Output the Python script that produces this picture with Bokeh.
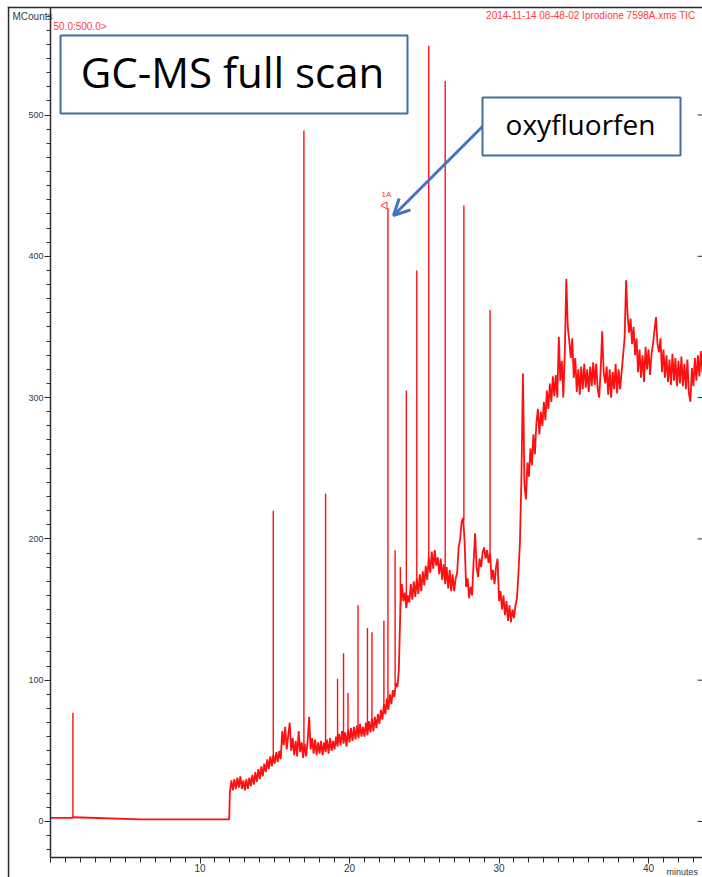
import numpy as np
from bokeh.plotting import figure
from bokeh.models import (Range1d, FixedTicker, BoxAnnotation, Label,
                          Arrow, OpenHead)
from bokeh.embed import file_html
from bokeh.resources import INLINE

# ---------------- data ----------------
# flat part of the run before the solvent delay ends (minutes, MCounts)
pre_t = [0.0, 1.45, 1.55, 6.0, 11.95]
pre_v = [2.5, 2.5, 3.0, 1.5, 1.5]

# TIC scans from 12.0 min on, one value every 0.1 min (MCounts)
scan_start = 12.0
scan_step = 0.1
tic_values = [
    21, 29, 22, 30, 23, 31, 24, 32, 23, 29,
    22, 30, 23, 31, 25, 33, 26, 35, 28, 37,
    30, 39, 32, 41, 35, 44, 37, 46, 39, 47,
    41, 49, 42, 50, 44, 64, 54, 67, 51, 61,
    70, 50, 59, 47, 57, 46, 64, 49, 56, 45,
    55, 46, 57, 74, 51, 59, 48, 58, 47, 56,
    48, 57, 47, 56, 49, 58, 48, 59, 50, 57,
    51, 60, 53, 62, 54, 64, 55, 63, 53, 65,
    56, 66, 57, 67, 58, 68, 59, 69, 60, 67,
    60, 70, 61, 71, 63, 73, 64, 74, 66, 76,
    69, 79, 72, 83, 76, 87, 79, 90, 83, 93,
    88, 98, 95, 107, 150, 168, 156, 162, 151, 160,
    155, 168, 157, 170, 159, 172, 161, 175, 163, 177,
    167, 181, 171, 187, 176, 191, 179, 192, 181, 187,
    175, 186, 171, 182, 168, 180, 165, 178, 163, 175,
    163, 172, 176, 194, 200, 212, 215, 198, 166, 172,
    158, 166, 160, 184, 204, 180, 173, 186, 180, 190,
    194, 186, 192, 183, 190, 171, 178, 168, 180, 186,
    156, 163, 150, 160, 146, 156, 142, 153, 141, 150,
    144, 153, 158, 176, 198, 244, 317, 238, 228, 254,
    244, 264, 252, 274, 260, 282, 292, 274, 290, 280,
    297, 284, 305, 292, 310, 297, 315, 301, 316, 300,
    343, 312, 326, 300, 332, 384, 350, 340, 328, 342,
    314, 328, 304, 320, 302, 322, 306, 324, 307, 320,
    304, 322, 308, 325, 309, 324, 306, 300, 320, 347,
    318, 310, 322, 302, 320, 300, 318, 306, 324, 303,
    320, 306, 318, 330, 342, 383, 358, 346, 356, 338,
    350, 330, 342, 318, 334, 314, 330, 311, 336, 320,
    334, 316, 331, 338, 348, 357, 338, 332, 342, 318,
    334, 314, 330, 311, 327, 309, 331, 312, 328, 308,
    326, 310, 329, 308, 324, 306, 327, 303, 297, 321,
    308, 328, 312, 330, 315, 333, 318,
]

# sharp peaks: retention time, baseline at foot, apex (MCounts)
peak_t = [1.5, 14.9, 16.95, 18.4, 19.2, 19.6, 19.9, 20.57, 21.2, 21.5,
          22.3, 22.57, 23.05, 23.4, 23.8, 24.5, 25.3, 26.4, 27.65, 29.4]
peak_base = [2.5, 44, 50, 52, 56, 58, 60, 62, 66, 68,
             76, 80, 96, 150, 157, 164, 182, 174, 213, 190]
peak_top = [77, 220, 489, 232, 101, 119, 91, 153, 137, 134,
            142, 434, 192, 180, 305, 390, 549, 524, 436, 362]
oxy_index = 11  # peak "1A" = oxyfluorfen

x_major = [10, 20, 30, 40]
x_minor = list(range(0, 44))
y_major = [0, 100, 200, 300, 400, 500]
y_minor = list(range(-20, 580, 10))

scan_t = [round(scan_start + scan_step * i, 2) for i in range(len(tic_values))]
trace_t = pre_t + scan_t
trace_v = pre_v + tic_values

# ---------------- figure ----------------
W, H = 702, 877
# the data frame covers the whole page; the axes sit inside it at fixed places
XR = (-3.344, 43.61)     # 0 min at 50 px, 43.61 min at the right edge
YR = (-39.66, 581.05)    # 0 MCounts at 821 px
X_AXIS_AT = -25.5        # bottom of the chromatogram box
Y_TOP = 576.1            # top of the chromatogram box


def dx(px):
    return XR[0] + px / W * (XR[1] - XR[0])


def dy(py):
    return YR[1] - py / H * (YR[1] - YR[0])


p = figure(width=W, height=H, output_backend="svg", toolbar_location=None,
           x_range=Range1d(*XR), y_range=Range1d(*YR),
           min_border_left=0, min_border_right=0, min_border_top=0,
           min_border_bottom=0)
p.xgrid.visible = False
p.ygrid.visible = False
p.outline_line_color = None
p.background_fill_color = "white"
p.border_fill_color = "white"

axis_col = "#2b2b2b"
lab_col = "#2e3a4a"

xa = p.xaxis[0]
xa.fixed_location = X_AXIS_AT
xa.bounds = (0, XR[1])
xa.ticker = FixedTicker(ticks=x_major, minor_ticks=x_minor)
xa.axis_line_color = axis_col
xa.axis_line_width = 1.5
xa.major_tick_line_color = axis_col
xa.minor_tick_line_color = axis_col
xa.major_tick_out = 6
xa.major_tick_in = 0
xa.minor_tick_out = 5
xa.minor_tick_in = 0
xa.major_label_text_font = "Liberation Sans"
xa.major_label_text_font_size = "10px"
xa.major_label_text_color = lab_col
xa.major_label_standoff = 1

ya = p.yaxis[0]
ya.fixed_location = 0
ya.bounds = (X_AXIS_AT, Y_TOP)
ya.ticker = FixedTicker(ticks=y_major, minor_ticks=y_minor)
ya.axis_line_color = axis_col
ya.axis_line_width = 1.5
ya.major_tick_line_color = axis_col
ya.minor_tick_line_color = axis_col
ya.major_tick_out = 6
ya.major_tick_in = 0
ya.minor_tick_out = 4
ya.minor_tick_in = 0
ya.major_label_text_font = "Liberation Sans"
ya.major_label_text_font_size = "9px"
ya.major_label_text_color = lab_col
ya.major_label_standoff = 1

# short tick marks along the right edge at the major y values
p.segment(x0=[XR[1] - 0.33] * len(y_major), y0=y_major,
          x1=[XR[1]] * len(y_major), y1=y_major,
          line_color=axis_col, line_width=1)

# outer rules of the printout (left border and top border)
p.add_layout(BoxAnnotation(left=dx(7.3), right=dx(8.8), top=dy(6.3), bottom=None,
                           fill_color=axis_col, fill_alpha=1, line_color=None))
p.add_layout(BoxAnnotation(left=dx(7.3), right=None, top=dy(6.3), bottom=dy(7.8),
                           fill_color=axis_col, fill_alpha=1, line_color=None))

# ---------------- chromatogram ----------------
red = "#ff1010"
p.line(trace_t, trace_v, line_color=red, line_width=1.8)
p.segment(x0=peak_t, y0=peak_base, x1=peak_t, y1=peak_top,
          line_color=red, line_width=1.4)

# peak marker "1A"
p.scatter(x=[peak_t[oxy_index] - 0.2], y=[peak_top[oxy_index] + 2],
          marker="triangle", angle=np.pi / 2, size=7,
          line_color="#ff3030", fill_color=None, line_width=1)
p.add_layout(Label(x=peak_t[oxy_index] - 0.1, y=peak_top[oxy_index] + 6.5,
                   text="1A", text_color="#ff3030", text_font="Liberation Sans",
                   text_font_size="8px", text_align="center"))

# printout header texts
p.add_layout(Label(x=dx(695), y=dy(15), text="2014-11-14 08-48-02 Iprodione 7598A.xms TIC",
                   text_color="#ff4040", text_font="Liberation Sans",
                   text_font_size="10px", text_align="right", text_baseline="alphabetic"))
p.add_layout(Label(x=dx(53), y=dy(26), text="50.0:500.0>",
                   text_color="#ff4040", text_font="Liberation Sans",
                   text_font_size="10px", text_align="left", text_baseline="alphabetic"))
p.add_layout(Label(x=dx(12), y=dy(15.5), text="MCounts",
                   text_color=lab_col, text_font="Liberation Sans",
                   text_font_size="10px", text_align="left", text_baseline="alphabetic"))
p.add_layout(Label(x=dx(666), y=dy(871), text="minutes",
                   text_color=lab_col, text_font="Liberation Sans",
                   text_font_size="9px", text_align="left", text_baseline="alphabetic"))

# ---------------- callouts ----------------
box_col = "#41719c"
arrow_col = "#4472c4"
p.add_layout(Arrow(x_start=dx(488), y_start=dy(120), x_end=dx(393), y_end=dy(215),
                   line_color=arrow_col, line_width=3,
                   end=OpenHead(size=16, line_color=arrow_col, line_width=3)))

p.add_layout(BoxAnnotation(left=dx(60), right=dx(407), top=dy(35), bottom=dy(113),
                           fill_color="white", fill_alpha=1,
                           line_color=box_col, line_width=2, line_alpha=1))
p.add_layout(Label(x=dx(232), y=dy(71), text="GC-MS full scan",
                   text_font="Open Sans", text_font_size="42px", text_color="black",
                   text_align="center", text_baseline="alphabetic"))

p.add_layout(BoxAnnotation(left=dx(482), right=dx(680), top=dy(97), bottom=dy(155),
                           fill_color="white", fill_alpha=1,
                           line_color=box_col, line_width=2, line_alpha=1))
p.add_layout(Label(x=dx(580), y=dy(123), text="oxyfluorfen",
                   text_font="Open Sans", text_font_size="28px", text_color="black",
                   text_align="center", text_baseline="alphabetic"))

open("out.html", "w").write(file_html(p, INLINE))
